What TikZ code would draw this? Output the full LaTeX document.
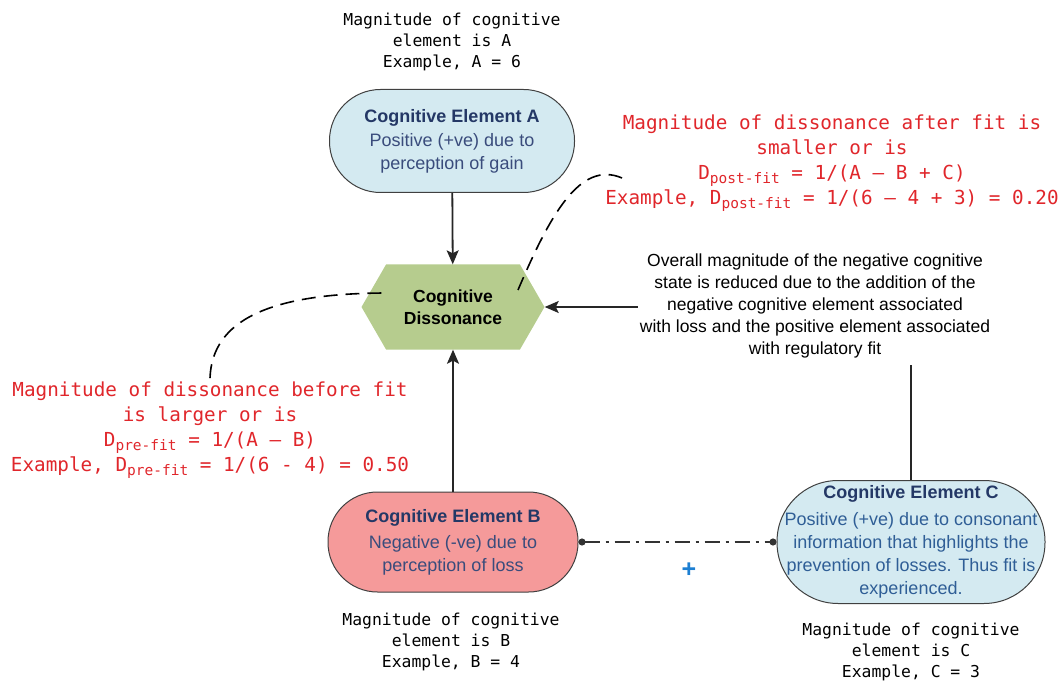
\documentclass[tikz,border=0pt]{standalone}
\usepackage{fontspec}
\setmainfont{Liberation Sans}
\newfontfamily\monofont{DejaVu Sans Mono}
\usetikzlibrary{arrows.meta,shapes.symbols}
\definecolor{elemblue}{HTML}{D4EAF1}
\definecolor{elempink}{HTML}{F59A9A}
\definecolor{dissgreen}{HTML}{B6CC8E}
\definecolor{titlenavy}{HTML}{243866}
\definecolor{bodynavy}{HTML}{3A4C7C}
\definecolor{bodyblue}{HTML}{2F5E96}
\definecolor{fitred}{HTML}{E0262B}
\definecolor{plusblue}{HTML}{1D7FD2}
\newcommand{\lowsub}[1]{\raisebox{-4pt}{\fontsize{14.5}{14.5}\selectfont #1}}

\begin{document}
\begin{tikzpicture}[x=1pt,y=-1pt]
    \tikzstyle{element}=[draw=black!75, line width=1pt, inner sep=0pt, align=center, text=bodynavy, font=\fontsize{18}{23}\selectfont]
    \tikzstyle{magtext}=[align=center, font=\monofont\fontsize{16.4}{21}\selectfont]
    \tikzstyle{fittext}=[align=center, text=fitred, font=\monofont\fontsize{19.3}{25}\selectfont]
    \tikzstyle{arrow}=[line width=1.8pt, black!85, -{Stealth[length=14pt,width=12pt,inset=3pt]}]
    \tikzstyle{fitcurve}=[line width=1.6pt, dash pattern=on 14pt off 8pt]
    \useasboundingbox (0,0) rectangle (1059,684);

    \node[magtext] (a) at (452,42) {Magnitude of cognitive\\element is A\\Example, A = 6};
    \node[element, fill=elemblue, rounded corners=51pt, minimum width=245pt, minimum height=103pt] (A) at (452,141)
        {{\bfseries\color{titlenavy}Cognitive Element A}\\[1pt]Positive (+ve) due to\\perception of gain};
    \node[signal, signal to=east and west, signal pointer angle=120, fill=dissgreen,
          minimum width=183pt, minimum height=85pt, align=center,
          font=\bfseries\fontsize{17.5}{22}\selectfont] (D) at (453,307) {Cognitive\\Dissonance};
    \node[element, fill=elempink, rounded corners=49.5pt, minimum width=250pt, minimum height=100pt] (B) at (453,542)
        {{\bfseries\color{titlenavy}Cognitive Element B}\\[3pt]Negative (-ve) due to\\perception of loss};
    \node[magtext] (b) at (451,642) {Magnitude of cognitive\\element is B\\Example, B = 4};
    \node[element, fill=elemblue, text=bodyblue, rounded corners=61pt, minimum width=268pt, minimum height=123pt] (C) at (911,542)
        {{\bfseries\color{titlenavy}Cognitive Element C}\\[4pt]Positive (+ve) due to consonant\\information that highlights the\\prevention of losses. Thus fit is\\experienced.};
    \node[magtext] (c) at (911,652) {Magnitude of cognitive\\element is C\\Example, C = 3};

    \node[fittext] (post) at (832,163) {Magnitude of dissonance after fit is\\smaller or is\\D\lowsub{post-fit} = 1/(A – B + C)\\Example, D\lowsub{post-fit} = 1/(6 – 4 + 3) = 0.20};
    \node[fittext] (pre) at (210,430) {Magnitude of dissonance before fit\\is larger or is\\D\lowsub{pre-fit} = 1/(A – B)\\Example, D\lowsub{pre-fit} = 1/(6 - 4) = 0.50};
    \node[text=plusblue, font=\bfseries\fontsize{25}{25}\selectfont] (plus) at (689,570) {+};

    \draw[arrow] (A) -- (D);
    \draw[arrow] (B) -- (D);
    \draw[arrow] (C.north) |- (D.east);
    \draw[line width=1.8pt, black!80, dash pattern=on 15pt off 6pt on 3pt off 6pt,
          {Circle[length=7pt]}-{Circle[length=7pt]}] (B.east) -- (C.west);

    % text sits over the connector coming up from C
    \node[fill=white, align=center, inner xsep=2pt, inner ysep=7pt, font=\fontsize{17.5}{22}\selectfont] (note) at (815,306)
        {Overall magnitude of the negative cognitive\\state is reduced due to the addition of the\\negative cognitive element associated\\with loss and the positive element associated\\with regulatory fit};

    \coordinate (Dl) at (388,293);
    \coordinate (Dr) at (518,290);
    \coordinate (postend) at (622,178);
    \draw[fitcurve] (pre.north) .. controls (212,320) and (270,293) .. (Dl);
    \draw[fitcurve] (Dr) .. controls (550,215) and (580,160) .. (postend);
\end{tikzpicture}
\end{document}
